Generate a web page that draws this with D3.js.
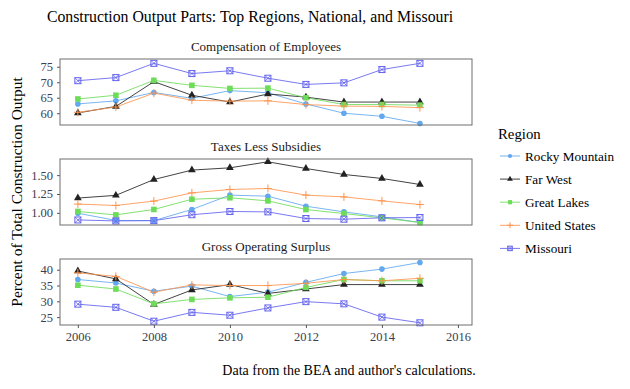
<!DOCTYPE html>
<html>
<head>
<meta charset="utf-8">
<script src="https://cdn.jsdelivr.net/npm/d3@7"></script>
<style>
  body { margin: 0; background: #fff; }
</style>
</head>
<body>
<div id="chart"></div>
<script>
"use strict"

// ---- data ----
const years = [2006, 2007, 2008, 2009, 2010, 2011, 2012, 2013, 2014, 2015];
const regions = ["Rocky Mountain", "Far West", "Great Lakes", "United States", "Missouri"];
const panelTitles = ["Compensation of Employees", "Taxes Less Subsidies", "Gross Operating Surplus"];
const xTicks = [2006, 2008, 2010, 2012, 2014, 2016];

// Compensation of Employees
const compRocky  = [63.0, 64.0, 66.7, 64.8, 67.3, 66.6, 63.0, 60.0, 59.0, 56.7];
const compFarW   = [60.1, 62.2, 70.2, 65.8, 63.6, 66.2, 65.2, 63.6, 63.6, 63.6];
const compGreatL = [64.6, 65.8, 70.6, 69.0, 68.0, 68.1, 65.0, 62.8, 62.8, 62.6];
const compUS     = [60.3, 62.0, 66.5, 64.2, 63.9, 64.0, 62.8, 62.3, 62.2, 61.8];
const compMO     = [70.5, 71.5, 76.1, 72.8, 73.7, 71.3, 69.3, 69.8, 74.1, 76.1];
const compTicks  = [60, 65, 70, 75];

// Taxes Less Subsidies
const taxRocky   = [0.995, 0.900, 0.897, 1.045, 1.235, 1.221, 1.088, 1.013, 0.947, 0.872];
const taxFarW    = [1.196, 1.232, 1.442, 1.567, 1.597, 1.677, 1.588, 1.509, 1.456, 1.376];
const taxGreatL  = [1.018, 0.973, 1.045, 1.180, 1.200, 1.159, 1.044, 0.991, 0.934, 0.872];
const taxUS      = [1.116, 1.098, 1.156, 1.265, 1.310, 1.323, 1.235, 1.212, 1.159, 1.110];
const taxMO      = [0.906, 0.893, 0.897, 0.975, 1.018, 1.013, 0.925, 0.916, 0.934, 0.938];
const taxTicks   = [1.00, 1.25, 1.50];

// Gross Operating Surplus
const gosRocky   = [36.9, 35.8, 33.2, 34.8, 31.5, 32.9, 36.0, 38.8, 40.2, 42.3];
const gosFarW    = [39.6, 37.1, 29.0, 33.6, 35.3, 32.5, 33.9, 35.3, 35.3, 35.3];
const gosGreatL  = [35.1, 33.9, 29.2, 30.6, 31.1, 31.3, 34.4, 36.9, 36.5, 36.5];
const gosUS      = [39.0, 37.9, 32.9, 35.2, 35.0, 35.0, 35.7, 36.9, 36.5, 37.3];
const gosMO      = [29.1, 28.1, 23.7, 26.5, 25.6, 27.9, 29.9, 29.2, 25.0, 23.2];
const gosTicks   = [25, 30, 35, 40];

// ---- layout ----
const width = 630, height = 389;
const panelLeft = 60, panelRight = 472, panelH = 66;
const panelTops = [59, 159, 259];
const serif = "'Liberation Serif', 'Times New Roman', serif";

const colors = {
    "Rocky Mountain": "#62a8ee",
    "Far West": "#222222",
    "Great Lakes": "#6ddc58",
    "United States": "#ff944d",
    "Missouri": "#6262ee"
};

const panels = [
    { title: panelTitles[0], domain: [56.2, 77.5], ticks: compTicks, fmt: d3.format("d"),
      series: [compRocky, compFarW, compGreatL, compUS, compMO] },
    { title: panelTitles[1], domain: [0.839, 1.714], ticks: taxTicks, fmt: d3.format(".2f"),
      series: [taxRocky, taxFarW, taxGreatL, taxUS, taxMO] },
    { title: panelTitles[2], domain: [22.5, 43.4], ticks: gosTicks, fmt: d3.format("d"),
      series: [gosRocky, gosFarW, gosGreatL, gosUS, gosMO] }
];

const svg = d3.select("#chart").append("svg")
    .attr("width", width)
    .attr("height", height)
    .attr("font-family", serif);

svg.append("rect").attr("width", width).attr("height", height).attr("fill", "#fff");

const x = d3.scaleLinear()
    .domain([2005.53, 2016.37])
    .range([panelLeft, panelRight]);

function addText(px, py, str, size, anchor) {
    return svg.append("text")
        .attr("x", px)
        .attr("y", py)
        .attr("text-anchor", anchor || "start")
        .attr("font-family", serif)
        .attr("font-size", size)
        .attr("fill", "#000")
        .text(str);
}

// draws a marker for a region at (0,0) inside group g
function drawMarker(g, region, s) {
    let c = colors[region];
    s = s || 1;
    if (region === "Rocky Mountain") {
        g.append("circle").attr("r", 2.8 * s).attr("fill", c);
    } else if (region === "Far West") {
        g.append("path").attr("d", d3.symbol(d3.symbolTriangle, 26 * s * s)()).attr("fill", c);
    } else if (region === "Great Lakes") {
        g.append("rect").attr("x", -2.8 * s).attr("y", -2.8 * s)
            .attr("width", 5.6 * s).attr("height", 5.6 * s).attr("fill", c);
    } else if (region === "United States") {
        let h = 4 * s;
        g.append("path").attr("d", `M${-h},0H${h}M0,${-h}V${h}`)
            .attr("stroke", c).attr("stroke-width", 1).attr("fill", "none");
    } else {
        let h = 3 * s;
        g.append("rect").attr("x", -h).attr("y", -h).attr("width", 2 * h).attr("height", 2 * h)
            .attr("fill", "none").attr("stroke", c).attr("stroke-width", 1);
        g.append("path").attr("d", `M${-h},${-h}L${h},${h}M${-h},${h}L${h},${-h}`)
            .attr("stroke", c).attr("stroke-width", 0.8);
    }
}

function styleAxis(ax) {
    ax.attr("font-family", serif);
    ax.select(".domain").remove();
    ax.selectAll("line").attr("stroke", "#555");
    ax.selectAll("text")
        .attr("font-family", serif)
        .attr("font-size", "12.5px")
        .attr("fill", "#3d3d4d");
}

panels.forEach(function(p, i) {
    let top = panelTops[i];
    let y = d3.scaleLinear().domain(p.domain).range([top + panelH, top]);

    // strip title
    addText((panelLeft + panelRight) / 2, top - 8, p.title, "13px", "middle").attr("fill", "#1a1a1a");

    // y axis
    let yAxis = svg.append("g")
        .attr("transform", "translate(" + panelLeft + ",0)")
        .call(d3.axisLeft(y).tickValues(p.ticks).tickFormat(p.fmt).tickSize(3).tickPadding(4));
    styleAxis(yAxis);

    let line = d3.line()
        .x((d, k) => x(years[k]))
        .y(d => y(d));

    p.series.forEach(function(vals, j) {
        svg.append("path")
            .datum(vals)
            .attr("d", line)
            .attr("fill", "none")
            .attr("stroke", colors[regions[j]])
            .attr("stroke-opacity", 0.85)
            .attr("stroke-width", 1);
    });

    p.series.forEach(function(vals, j) {
        vals.forEach(function(v, k) {
            let g = svg.append("g").attr("transform", "translate(" + x(years[k]) + "," + y(v) + ")");
            drawMarker(g, regions[j]);
        });
    });

    // panel border
    svg.append("rect")
        .attr("x", panelLeft)
        .attr("y", top)
        .attr("width", panelRight - panelLeft)
        .attr("height", panelH)
        .attr("fill", "none")
        .attr("stroke", "#6e6e6e")
        .attr("stroke-width", 1);
});

// x axis below the last panel
let xAxis = svg.append("g")
    .attr("transform", "translate(0," + (panelTops[2] + panelH) + ")")
    .call(d3.axisBottom(x).tickValues(xTicks).tickFormat(d3.format("d")).tickSize(3).tickPadding(4));
styleAxis(xAxis);

// main title
addText(250, 22, "Construction Output Parts: Top Regions, National, and Missouri", "15.8px", "middle");

// y title
svg.append("text")
    .attr("transform", "translate(22,192) rotate(-90)")
    .attr("text-anchor", "middle")
    .attr("font-family", serif)
    .attr("font-size", "15.5px")
    .attr("fill", "#000")
    .text("Percent of Total Construction Output");

// caption
addText(349, 375, "Data from the BEA and author's calculations.", "14px", "middle");

// legend
addText(498, 139, "Region", "14.8px");

regions.forEach(function(r, i) {
    let ly = 156 + i * 23.1;
    svg.append("line")
        .attr("x1", 500).attr("x2", 520)
        .attr("y1", ly).attr("y2", ly)
        .attr("stroke", colors[r])
        .attr("stroke-opacity", 0.85)
        .attr("stroke-width", 1);
    let g = svg.append("g").attr("transform", "translate(510," + ly + ")");
    drawMarker(g, r, 0.75);
    addText(525, ly + 4.5, r, "13.2px");
});
</script>
</body>
</html>
